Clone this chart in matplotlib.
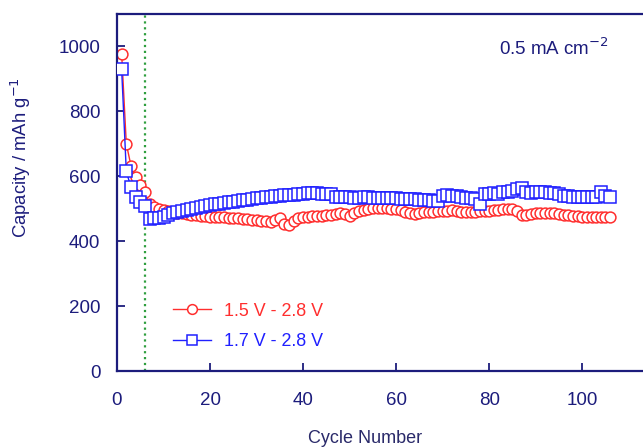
import numpy as np
import matplotlib
matplotlib.use("Agg")
import matplotlib.pyplot as plt

plt.rcParams['font.family'] = ['Liberation Sans', 'DejaVu Sans']

cycles = np.arange(1, 107)

cap_15 = [978, 700, 633, 597, 572, 553, 515, 505, 500, 495,
          492, 490, 488, 486, 484, 482, 480, 478, 477, 476,
          475, 474, 473, 472, 471, 470, 469, 468, 466, 465,
          463, 462, 460, 465, 470, 452, 450, 462, 470, 473,
          475, 477, 478, 479, 480, 482, 484, 486, 484, 478,
          488, 492, 496, 500, 501, 502, 503, 502, 500, 498,
          497, 490, 486, 485, 487, 489, 490, 491, 492, 493,
          494, 495, 494, 490, 489, 490, 491, 492, 493, 494,
          495, 496, 498, 500, 500, 492, 480, 482, 484, 486,
          487, 488, 487, 486, 484, 482, 480, 478, 477, 476,
          476, 475, 475, 475, 474, 474]

cap_17 = [929, 615, 566, 535, 522, 509, 469, 470, 472, 476,
          482, 487, 490, 494, 497, 500, 503, 505, 508, 511,
          514, 516, 518, 520, 522, 524, 526, 528, 530, 532,
          534, 536, 537, 538, 540, 541, 542, 543, 545, 546,
          547, 547, 547, 546, 546, 545, 537, 536, 535, 535,
          534, 534, 535, 535, 534, 534, 533, 533, 532, 532,
          531, 530, 530, 529, 528, 527, 526, 525, 524, 540,
          541, 540, 538, 536, 534, 532, 530, 516, 545, 546,
          547, 546, 550, 552, 556, 562, 564, 550, 549, 550,
          551, 550, 549, 548, 544, 540, 538, 537, 536, 535,
          535, 535, 536, 550, 540, 535]

navy = '#1c1c7c'
red = '#ff2e2e'
blue = '#2020ff'

fig = plt.figure(figsize=(6.43, 4.48), dpi=100)
ax = fig.add_axes([117/643, 77/448, 535/643, 357/448])

ax.axvline(6, color='#2e9e3e', ls=':', lw=1.6, zorder=1)
ax.plot(cycles, cap_15, '-o', color=red, mfc='white', mec=red, ms=7.8,
        mew=1.1, lw=1.0, label='1.5 V - 2.8 V', zorder=2)
ax.plot(cycles, cap_17, '-s', color=blue, mfc='white', mec=blue, ms=8.2,
        mew=1.1, lw=1.0, label='1.7 V - 2.8 V', zorder=3)

ax.set_xlim(0, 115)
ax.set_ylim(0, 1100)
ax.set_xticks([0, 20, 40, 60, 80, 100])
ax.set_yticks([0, 200, 400, 600, 800, 1000])

for s in ax.spines.values():
    s.set_color(navy)
    s.set_linewidth(1.6)
ax.tick_params(direction='in', length=6, width=1.3, color=navy,
               labelcolor=navy, labelsize=13.5)
ax.tick_params(axis='x', pad=15)
ax.tick_params(axis='y', pad=12)

ax.set_xlabel('Cycle Number', color='#2a2a6a', fontsize=13)
ax.xaxis.set_label_coords(0.464, -0.165)
ax.set_ylabel('Capacity / mAh g$^{-1}$', color=navy, fontsize=13.3)
ax.yaxis.set_label_coords(-0.157, 0.597)

ax.text(0.92, 0.905, '0.5 mA cm$^{-2}$', transform=ax.transAxes,
        color=navy, fontsize=13.5, ha='right', va='center')

ax.legend(loc='center left', bbox_to_anchor=(0.092, 0.125),
          borderaxespad=0, frameon=False, labelcolor='linecolor',
          fontsize=12.9, handlelength=2.1, handletextpad=0.7,
          labelspacing=0.75, markerscale=0.9)

fig.savefig('out.png', dpi=100)
